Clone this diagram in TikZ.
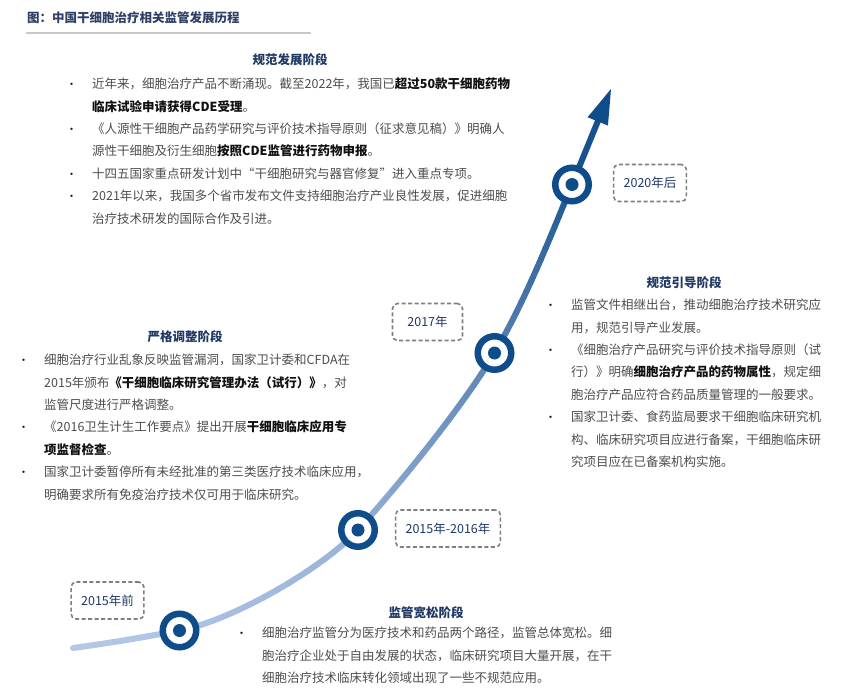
\documentclass[tikz,border=0pt]{standalone}
\usepackage{fontspec}
\setmainfont{Noto Sans CJK SC}
\usetikzlibrary{calc}
\definecolor{titlenavy}{HTML}{2F4066}
\definecolor{navy}{HTML}{1F3864}
\definecolor{bodygray}{HTML}{4D4D4D}
\definecolor{boldtext}{HTML}{111111}
\definecolor{boxgray}{HTML}{7F7F7F}
\definecolor{ringblue}{HTML}{0F4C8A}
\definecolor{curvelight}{HTML}{B4C7E7}
\definecolor{curvedark}{HTML}{0F4C8A}
\definecolor{rulegray}{HTML}{C8C8C8}
\newcommand\bul{\makebox[26pt][l]{{\fontsize{11}{11}\selectfont\color{boldtext}•}}}
\newcommand\ind{\hspace*{26pt}}
\newcommand\bk[1]{{\bfseries\color{boldtext}#1}}
\newcommand\gradcurve[7]{%
  \foreach \i in {0,...,16}{%
    \pgfmathsetmacro\gct{\i/16}%
    \pgfcoordinate{#1\i}{\pgfpointcurveattime{\gct}{\pgfpointanchor{#2}{center}}{\pgfpointanchor{#3}{center}}{\pgfpointanchor{#4}{center}}{\pgfpointanchor{#5}{center}}}}%
  \foreach \i in {0,...,15}{%
    \pgfmathtruncatemacro\gcj{\i+1}%
    \pgfmathsetmacro\gcp{#6+(#7-#6)*(\i+0.5)/16}%
    \draw[curveseg, color=curvedark!\gcp!curvelight] (#1\i) -- (#1\gcj);}}
\tikzset{
  ring/.style={circle, draw=ringblue, line width=6.5pt, fill=white, minimum size=33.5pt, inner sep=0pt},
  datebox/.style={draw=boxgray, dash pattern=on 4pt off 2.5pt, line width=1.6pt, rounded corners=5pt,
    text=navy, font=\fontsize{12.5}{15}\selectfont, inner xsep=10pt, minimum height=37pt, minimum width=70pt},
  heading/.style={text=navy, font=\bfseries\fontsize{12.5}{15}\selectfont, inner sep=0pt},
  body/.style={anchor=base west, inner sep=0pt, text=bodygray, font=\fontsize{12.5}{22.4}\selectfont},
  curveseg/.style={line width=6pt, line cap=round},
}
\begin{document}
\begin{tikzpicture}[x=1pt,y=-1pt]
\useasboundingbox (0,0) rectangle (842,695);
% title
\node[anchor=west, inner sep=0pt, text=titlenavy, font=\bfseries\fontsize{12.5}{15}\selectfont] (title) at (27,18) {图：中国干细胞治疗相关监管发展历程};
\draw[rulegray, line width=1.4pt] (26,33) -- (311,33);
% curve points
\coordinate (c0) at (73,648);
\coordinate (c1) at (179.5,630.5);
\coordinate (c2) at (358,530);
\coordinate (c3) at (494.5,353);
\coordinate (c4) at (572,184.5);
\coordinate (tip) at (611,89);
\coordinate (ka1) at (110,643);
\coordinate (ka2) at (145,637);
\coordinate (kb1) at (233.6,620.3);
\coordinate (kb2) at (324.4,567);
\coordinate (kc1) at (398.4,485.6);
\coordinate (kc2) at (464.1,404.7);
\coordinate (kd1) at (524.9,301.3);
\coordinate (kd2) at (549.2,240);
\gradcurve{sa}{c0}{ka1}{ka2}{c1}{0}{3}
\gradcurve{sb}{c1}{kb1}{kb2}{c2}{3}{18}
\gradcurve{sc}{c2}{kc1}{kc2}{c3}{18}{55}
\gradcurve{sd}{c3}{kd1}{kd2}{c4}{55}{90}
\coordinate (abase) at ($(tip)!35pt!(c4)$);
\coordinate (al) at ($(abase)!11pt!90:(tip)$);
\coordinate (ar) at ($(abase)!11pt!-90:(tip)$);
\draw[curveseg, color=curvedark!95!curvelight] (c4) -- (abase);
\fill[curvedark] (tip) -- (al) -- (ar) -- cycle;
% rings
\foreach \k in {1,2,3,4}{
  \node[ring] (r\k) at (c\k) {};
  \fill[ringblue] (r\k.center) circle (6.5pt);
}
% date boxes
\node[datebox] (d1) at (107.5,600.5) {2015年前};
\node[datebox] (d2) at (448,528.5) {2015年-2016年};
\node[datebox] (d3) at (427.5,322) {2017年};
\node[datebox] (d4) at (650,183) {2020年后};
% headings
\node[heading] (h1) at (290,60) {规范发展阶段};
\node[heading] (h2) at (185,337) {严格调整阶段};
\node[heading] (h3) at (684,283) {规范引导阶段};
\node[heading] (h4) at (426,613) {监管宽松阶段};
% bodies
\node[body] (t1) at (66,88.7) {\begin{tabular}[t]{@{}l@{}}
\bul 近年来，细胞治疗产品不断涌现。截至2022年，我国已\bk{超过50款干细胞药物}\\
\ind\bk{临床试验申请获得CDE受理}。\\
\bul《人源性干细胞产品药学研究与评价技术指导原则（征求意见稿）》明确人\\
\ind 源性干细胞及衍生细胞\bk{按照CDE监管进行药物申报}。\\
\bul 十四五国家重点研发计划中“干细胞研究与器官修复”进入重点专项。\\
\bul 2021年以来，我国多个省市发布文件支持细胞治疗产业良性发展，促进细胞\\
\ind 治疗技术研发的国际合作及引进。
\end{tabular}};
\node[body] (t2) at (18,364.7) {\begin{tabular}[t]{@{}l@{}}
\bul 细胞治疗行业乱象反映监管漏洞，国家卫计委和CFDA在\\
\ind 2015年颁布\bk{《干细胞临床研究管理办法（试行）》}，对\\
\ind 监管尺度进行严格调整。\\
\bul《2016卫生计生工作要点》提出开展\bk{干细胞临床应用专}\\
\ind\bk{项监督检查}。\\
\bul 国家卫计委暂停所有未经批准的第三类医疗技术临床应用，\\
\ind 明确要求所有免疫治疗技术仅可用于临床研究。
\end{tabular}};
\node[body] (t3) at (545,309.7) {\begin{tabular}[t]{@{}l@{}}
\bul 监管文件相继出台，推动细胞治疗技术研究应\\
\ind 用，规范引导产业发展。\\
\bul《细胞治疗产品研究与评价技术指导原则（试\\
\ind 行）》明确\bk{细胞治疗产品的药物属性}，规定细\\
\ind 胞治疗产品应符合药品质量管理的一般要求。\\
\bul 国家卫计委、食药监局要求干细胞临床研究机\\
\ind 构、临床研究项目应进行备案，干细胞临床研\\
\ind 究项目应在已备案机构实施。
\end{tabular}};
\node[body] (t4) at (236,637.7) {\begin{tabular}[t]{@{}l@{}}
\bul 细胞治疗监管分为医疗技术和药品两个路径，监管总体宽松。细\\
\ind 胞治疗企业处于自由发展的状态，临床研究项目大量开展，在干\\
\ind 细胞治疗技术临床转化领域出现了一些不规范应用。
\end{tabular}};
\end{tikzpicture}
\end{document}
